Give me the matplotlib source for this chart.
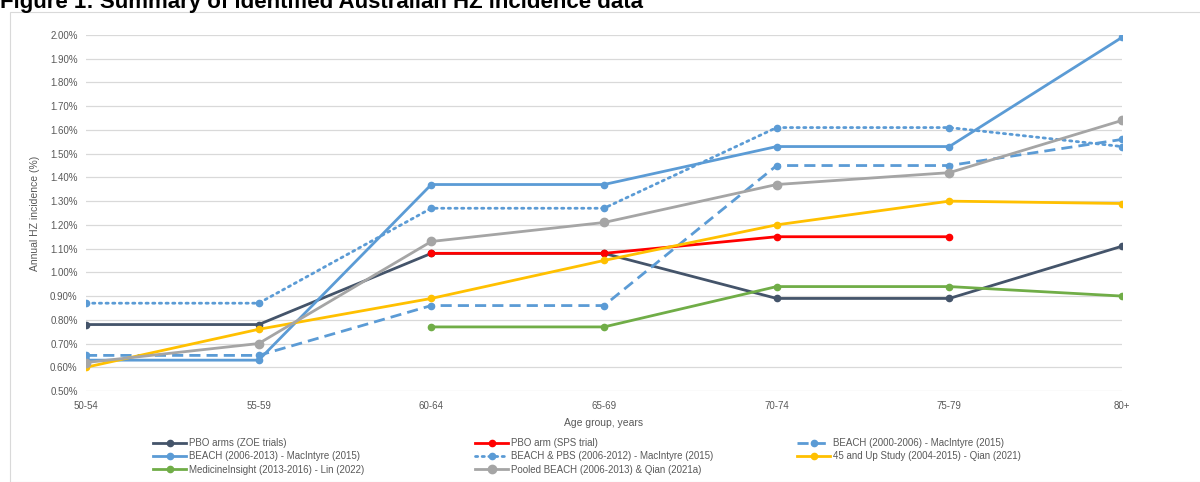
import matplotlib
matplotlib.use("Agg")
import matplotlib.pyplot as plt
from matplotlib.patches import Rectangle
from matplotlib.ticker import FuncFormatter
import numpy as np

plt.rcParams['font.family'] = ['Liberation Sans', 'DejaVu Sans']

categories = ["50-54", "55-59", "60-64", "65-69", "70-74", "75-79", "80+"]
nan = np.nan
pbo_zoe = [0.78, 0.78, 1.08, 1.08, 0.89, 0.89, 1.11]
pbo_sps = [nan, nan, 1.08, 1.08, 1.15, 1.15, nan]
beach_0006 = [0.65, 0.65, 0.86, 0.86, 1.45, 1.45, 1.56]
beach_0613 = [0.63, 0.63, 1.37, 1.37, 1.53, 1.53, 1.99]
beach_pbs = [0.87, 0.87, 1.27, 1.27, 1.61, 1.61, 1.53]
up45 = [0.60, 0.76, 0.89, 1.05, 1.20, 1.30, 1.29]
medins = [nan, nan, 0.77, 0.77, 0.94, 0.94, 0.90]
pooled = [0.62, 0.70, 1.13, 1.21, 1.37, 1.42, 1.64]

labels = ["PBO arms (ZOE trials)", "PBO arm (SPS trial)", "BEACH (2000-2006) - MacIntyre (2015)",
          "BEACH (2006-2013) - MacIntyre (2015)", "BEACH & PBS (2006-2012) - MacIntyre (2015)",
          "45 and Up Study (2004-2015) - Qian (2021)", "MedicineInsight (2013-2016) - Lin (2022)",
          "Pooled BEACH (2006-2013) & Qian (2021a)"]
series = [pbo_zoe, pbo_sps, beach_0006, beach_0613, beach_pbs, up45, medins, pooled]
colors = ["#44546A", "#FF0000", "#5B9BD5", "#5B9BD5", "#5B9BD5", "#FFC000", "#70AD47", "#A5A5A5"]
styles = ["-", "-", (0, (4, 2.2)), "-", (0, (0.8, 1.6)), "-", "-", "-"]
msizes = [4.5, 4.5, 4.5, 4.5, 4.5, 4.5, 4.5, 6]

W, H = 1200, 482
fig = plt.figure(figsize=(W / 100, H / 100), dpi=100)

# chart frame
fig.patches.append(Rectangle((10 / W, 0), 1.2, 1 - 12 / H, transform=fig.transFigure,
                             fill=False, edgecolor="#D9D9D9", linewidth=0.8))
fig.text(0.0, 1 - 8 / H, "Figure 1: Summary of identified Australian HZ incidence data",
         fontsize=16, fontweight="bold", ha="left", va="baseline", color="#000000")

ax = fig.add_axes([86 / W, 1 - 391 / H, (1122 - 86) / W, (391 - 35) / H])
x = np.arange(len(categories))
handles = []
for s, lab, c, ls, ms in zip(series, labels, colors, styles, msizes):
    ln, = ax.plot(x, s, color=c, linestyle=ls, linewidth=2.0, marker="o", markersize=ms,
                  label=lab, dash_capstyle="round" if ls == styles[4] else "butt")
    handles.append(ln)

ax.set_xlim(0, 6)
ax.set_ylim(0.5, 2.0)
ax.set_yticks(np.arange(0.5, 2.001, 0.1))
ax.yaxis.set_major_formatter(FuncFormatter(lambda v, p: f"{v:.2f}%"))
ax.set_xticks(x)
ax.set_xticklabels(categories)
ax.grid(axis="y", color="#D9D9D9", linewidth=0.9)
ax.set_axisbelow(True)
for sp in ax.spines.values():
    sp.set_visible(False)
ax.tick_params(axis="both", length=0, labelsize=7, labelcolor="#595959")
ax.tick_params(axis="x", pad=7)
ax.tick_params(axis="y", pad=6)
ax.set_xlabel("Age group, years", fontsize=7.5, color="#595959", labelpad=5)
ax.set_ylabel("Annual HZ incidence (%)", fontsize=7.5, color="#595959", labelpad=7)

cols = [[0, 3, 6], [1, 4, 7], [2, 5]]
xs = [153, 475, 797]
for cidx, xp in zip(cols, xs):
    fig.legend([handles[i] for i in cidx], [labels[i] for i in cidx],
               loc="upper left", bbox_to_anchor=(xp / W, 1 - 438 / H),
               frameon=False, fontsize=7, handlelength=3.4, handletextpad=0.35,
               labelspacing=0.35, borderaxespad=0, borderpad=0, labelcolor="#595959")

fig.savefig("out.png", dpi=100)
